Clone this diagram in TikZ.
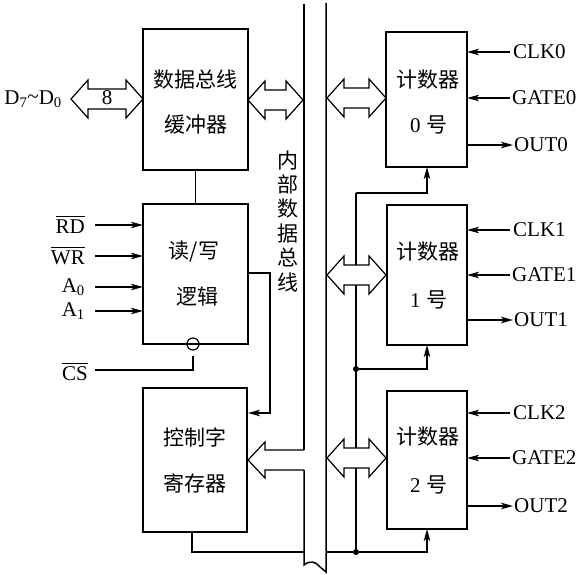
\documentclass[tikz,border=0pt]{standalone}
\usepackage{fontspec}
\setmainfont{Liberation Serif}
\newfontfamily\cjk{Noto Sans CJK SC}
\usetikzlibrary{arrows.meta,calc}
\tikzset{
  blk/.style={draw, line width=2.6pt, inner sep=0pt},
  wire/.style={line width=1.2pt},
  sig/.style={line width=1.2pt, -{Stealth[length=12pt,width=6.5pt,inset=3pt]}},
  bus/.style={line width=1.5pt},
  fat/.style={line width=1.2pt, fill=white, line join=miter},
  lbl/.style={font=\fontsize{21}{24}\selectfont, inner sep=0pt},
  zh/.style={font=\cjk\fontsize{21}{24}\selectfont, inner sep=0pt},
  dotnode/.style={circle, fill, inner sep=0pt, minimum size=6pt}
}
\newcommand{\dblarr}[3]{%
  \draw[fat] (#1,#3) -- ({#1+17},{#3-19}) -- ({#1+17},{#3-10}) -- ({#2-17},{#3-10})
    -- ({#2-17},{#3-19}) -- (#2,#3) -- ({#2-17},{#3+19}) -- ({#2-17},{#3+10})
    -- ({#1+17},{#3+10}) -- ({#1+17},{#3+19}) -- cycle;}
\newcommand{\hao}[1]{{\fontspec{Liberation Serif}#1}\hspace{0.3em}{\cjk 号}}
\newcommand{\ovl}[1]{\leavevmode\vbox{\hrule height 1.1pt\kern 2.5pt\hbox{#1}}}
\begin{document}
\begin{tikzpicture}[x=1pt,y=-1pt]
\useasboundingbox (0,0) rectangle (582,575);

% internal bus
\draw[bus] (304,4) -- (304,450);
\draw[bus] (304,470) -- (304,565)
  .. controls (310,560) and (316,562) .. (319,566) -- (326,572) -- (326,3);
\node[zh, align=center, font=\cjk\fontsize{21}{24.4}\selectfont] (busl) at (288,221) {内\\部\\数\\据\\总\\线};

% blocks
\node[blk, minimum width=105pt, minimum height=141pt] (buf) at (195.5,99.5) {};
\node[zh] at (195.5,80) {数据总线};
\node[zh] at (195.5,125) {缓冲器};

\node[blk, minimum width=105pt, minimum height=140pt] (rw) at (195.5,274) {};
\node[zh] at (194,252) {读/写};
\node[zh] at (197,297) {逻辑};

\node[blk, minimum width=104pt, minimum height=144pt] (cw) at (195,460) {};
\node[zh] at (195,437) {控制字};
\node[zh] at (195,483) {寄存器};

\node[blk, minimum width=81pt, minimum height=135pt] (c0) at (426.5,99.5) {};
\node[zh] at (428,80) {计数器};
\node[lbl] at (429,125) {\hao{0}};

\node[blk, minimum width=80pt, minimum height=140pt] (c1) at (427,275) {};
\node[zh] at (428,252) {计数器};
\node[lbl] at (429,300) {\hao{1}};

\node[blk, minimum width=80pt, minimum height=138pt] (c2) at (427,460) {};
\node[zh] at (428,437) {计数器};
\node[lbl] at (429,485) {\hao{2}};

% data bus to outside
\dblarr{71}{143}{99}
\node[lbl] at (107,98) {8};
\node[lbl, anchor=east] (dlbl) at (62,99) {D\textsubscript{7}\raisebox{0.1ex}{\textasciitilde}D\textsubscript{0}};
\dblarr{248}{303}{100}

% counter bus arrows
\draw[wire] (356,193) -- (356,552);
\dblarr{327}{386}{98}
\dblarr{327}{386}{275}
\dblarr{327}{386}{458}

% control register arrow from bus
\draw[fat] (304,450) -- (265,450) -- (265,442) -- (248,460) -- (265,478) -- (265,470) -- (304,470);

% buffer to r/w logic
\draw[wire] (buf.south) -- (rw.north);

% r/w inputs
\foreach \n/\t/\y in {rd/{\ovl{RD}}/225, wr/{\ovl{WR}}/256, a0/{A\textsubscript{0}}/287, a1/{A\textsubscript{1}}/311}{
  \node[lbl, anchor=east] (\n) at (85,\y) {\t};
  \draw[sig] (95,\y) -- (143,\y);
}
% CS
\draw[wire] (193,344) circle (6pt);
\coordinate (csbot) at (193,356);
\coordinate (csend) at (95,370);
\draw[wire] (csbot) |- (csend);
\node[lbl, anchor=east] (cs) at (88,372) {\ovl{CS}};

% r/w to control word register
\coordinate (rwout) at (248,273);
\coordinate (cwin) at (248,413);
\draw[sig] (rwout) -- (270,273) -- (270,413) -- (cwin);

% control register bottom to counters' gates
\draw[wire] (192,532) -- (192,552) -- (304,552);
\node[dotnode] (d2) at (356,552) {};
\node[dotnode] (d1) at (356,369) {};
\draw[wire] (326,552) -- (d2);
\draw[sig] (d2) -| (427,529);
\draw[sig] (d1) -| (427,345);
\draw[sig] (356,193) -| (427,167);

% counter I/O
\foreach \k/\a/\b/\c in {0/52/98/145, 1/230/275/320, 2/413/458/506}{
  \draw[sig] (510,\a) -- (467,\a);
  \node[lbl, anchor=west] at (513,\a) {CLK\k};
  \draw[sig] (510,\b) -- (467,\b);
  \node[lbl, anchor=west] at (512,\b) {GATE\k};
  \draw[sig] (467,\c) -- (513,\c);
  \node[lbl, anchor=west] at (514,\c) {OUT\k};
}
\end{tikzpicture}
\end{document}
